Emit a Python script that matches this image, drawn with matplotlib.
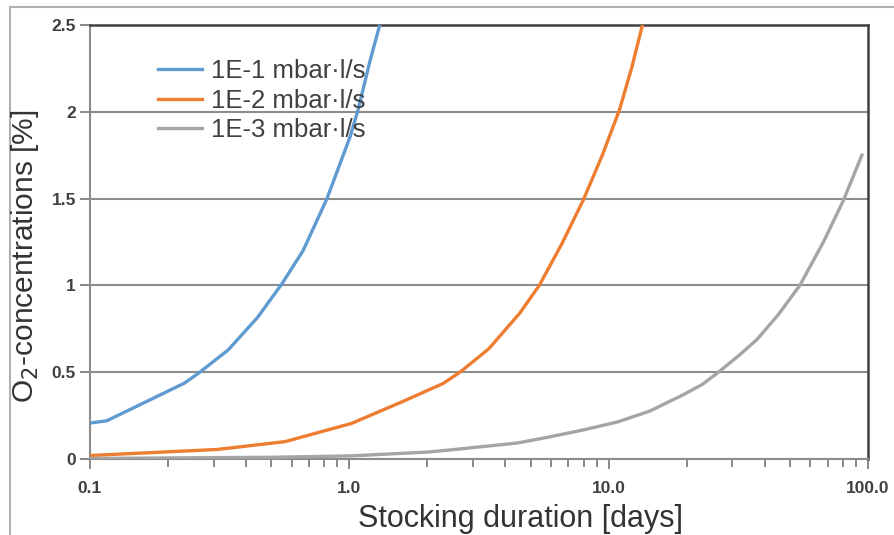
import matplotlib
matplotlib.use("Agg")
import matplotlib.pyplot as plt
from matplotlib.lines import Line2D
from matplotlib.ticker import FixedLocator, NullFormatter

plt.rcParams['font.family'] = ['Liberation Sans', 'DejaVu Sans']

# ---- data ----
labels = ["1E-1 mbar·l/s", "1E-2 mbar·l/s", "1E-3 mbar·l/s"]
colors = ["#5f9bd0", "#ed7d31", "#a5a5a5"]

x_e1 = [0.1, 0.116, 0.232, 0.265, 0.341, 0.444, 0.55, 0.663, 0.82, 1.006, 1.08, 1.2, 1.31]
y_e1 = [0.207, 0.22, 0.438, 0.50, 0.628, 0.818, 1.01, 1.20, 1.50, 1.855, 2.01, 2.29, 2.5]

x_e2 = [0.1, 0.31, 0.565, 1.02, 1.6, 2.3, 2.67, 3.45, 4.54, 5.4, 6.6, 7.97, 9.45, 11.0, 12.3, 13.5]
y_e2 = [0.02, 0.055, 0.10, 0.205, 0.33, 0.435, 0.50, 0.635, 0.84, 1.0, 1.24, 1.49, 1.75, 2.01, 2.26, 2.5]

x_e3 = [0.1, 0.5, 1.02, 2.0, 2.44, 4.44, 5.9, 7.96, 10.8, 14.4, 19.4, 23.0, 26.5, 32.0, 37.4, 45.0, 54.6, 67.3, 80.4, 94.7]
y_e3 = [0.003, 0.01, 0.018, 0.04, 0.052, 0.092, 0.127, 0.167, 0.213, 0.276, 0.37, 0.43, 0.50, 0.60, 0.69, 0.83, 1.0, 1.25, 1.49, 1.75]

xticks = [0.1, 1.0, 10.0, 100.0]
xtick_labels = ["0.1", "1.0", "10.0", "100.0"]
yticks = [0, 0.5, 1, 1.5, 2, 2.5]
ytick_labels = ["0", "0.5", "1", "1.5", "2", "2.5"]

# ---- figure ----
fig = plt.figure(figsize=(8.95, 5.35), dpi=100)
ax = fig.add_axes([90/895, 1-459/535, (868-90)/895, (459-25)/535])

for xs, ys, lab, c in zip([x_e1, x_e2, x_e3], [y_e1, y_e2, y_e3], labels, colors):
    ax.plot(xs, ys, color=c, lw=2.4, label=lab, solid_joinstyle="round", zorder=3)

ax.set_xscale("log")
ax.set_xlim(0.1, 100)
ax.set_ylim(0, 2.5)

ax.set_xticks(xticks)
ax.set_xticklabels(xtick_labels)
minor = [m * 10.0**e for e in (-1, 0, 1) for m in range(2, 10)]
ax.xaxis.set_minor_locator(FixedLocator(minor))
ax.xaxis.set_minor_formatter(NullFormatter())
ax.set_yticks(yticks)
ax.set_yticklabels(ytick_labels)

ax.tick_params(axis="x", which="major", direction="out", length=7, width=1.3,
               color="#808080", labelsize=12.5, labelcolor="#404040", pad=9)
ax.tick_params(axis="x", which="minor", direction="out", length=6, width=1.3,
               color="#808080")
ax.tick_params(axis="y", which="major", direction="out", length=7, width=1.3,
               color="#808080", labelsize=12.5, labelcolor="#404040", pad=3)
for t in ax.get_xticklabels() + ax.get_yticklabels():
    t.set_fontweight("bold")

ax.grid(axis="y", color="#8c8c8c", lw=1.5, zorder=1)
ax.set_axisbelow(True)

ax.spines["left"].set_color("#8c8c8c")
ax.spines["left"].set_linewidth(1.5)
ax.spines["bottom"].set_color("#8c8c8c")
ax.spines["bottom"].set_linewidth(1.5)
ax.spines["top"].set_color("#404040")
ax.spines["top"].set_linewidth(1.8)
ax.spines["right"].set_color("#404040")
ax.spines["right"].set_linewidth(1.8)

leg = ax.legend(loc="upper left", bbox_to_anchor=(0.074, 0.945), frameon=False,
                fontsize=18.5, handlelength=1.7, handletextpad=0.35,
                labelspacing=0.22, borderaxespad=0.0)
for t in leg.get_texts():
    t.set_color("#404040")

fig.text(520/895, 1-519/535, "Stocking duration [days]", ha="center", va="center",
         fontsize=22, color="#333333")
fig.text(25/895, 1-256/535, "O$_2$-concentrations [%]", ha="center", va="center",
         rotation=90, fontsize=21.5, color="#333333")

# outer frame fragments (left and top)
fig.add_artist(Line2D([10/895, 10/895], [0, 1-7/535], transform=fig.transFigure,
                      color="#b0b0b0", lw=1.5))
fig.add_artist(Line2D([10/895, 1], [1-7/535, 1-7/535], transform=fig.transFigure,
                      color="#b0b0b0", lw=1.5))

fig.savefig("out.png", dpi=100)
